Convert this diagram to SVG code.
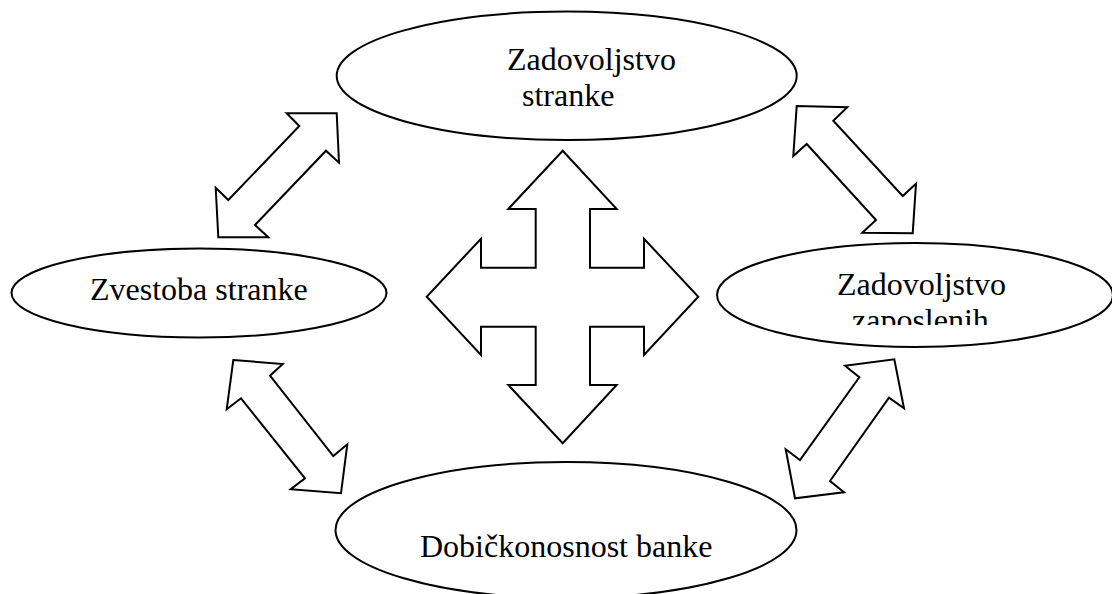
<svg xmlns="http://www.w3.org/2000/svg" width="1112" height="594" viewBox="0 0 1112 594">
<style>
.shape{fill:#fff;stroke:#000;stroke-width:2;stroke-linejoin:miter}
.lbl{font-family:"Liberation Serif","Times New Roman",serif;font-size:32px;fill:#000}
</style>
<defs>
<clipPath id="clipR"><rect x="700" y="230" width="412" height="95"/></clipPath>
</defs>
<rect width="1112" height="594" fill="#fff"/>
<g id="connectors">
<polygon class="shape" points="286.7,113.3 336.7,113.3 339,162.7 326,150.7 255,225 268.3,237.3 218.3,237.3 215.7,187.7 228.3,200 299.3,126"/>
<polygon class="shape" points="796.7,106 847.3,107.3 833.3,120.7 902.7,196 916,183.7 912.7,233.3 862.3,232.7 876,220 806.7,144 793.3,156"/>
<polygon class="shape" points="233.3,360 282.7,364 270,375.7 333.3,456 347.3,444.3 341,493.3 290.7,489.3 305,478.3 241,398.3 226.7,409.3"/>
<polygon class="shape" points="845,365.7 894.3,359.3 904,408.3 889,397.7 830,481 844,492.3 795,498.3 785.7,449.3 800,460 859.3,377.3"/>
<polygon class="shape" points="562.7,150.7 616.7,209 590,209 590,267.7 644,267.7 644,238.7 698.3,296.7 644,355 644,326.7 590,326.7 590,385 616.7,385 562.7,443.3 508.3,385 535.7,385 535.7,326.7 481,326.7 481,355 426.7,296.7 481,238.7 481,267.7 535.7,267.7 535.7,209 508.3,209"/>
</g>
<g id="node-top">
<ellipse class="shape" cx="566.7" cy="75.8" rx="230" ry="64.2"/>
<text class="lbl" x="507" y="70">Zadovoljstvo</text>
<text class="lbl" x="522" y="106">stranke</text>
</g>
<g id="node-left">
<ellipse class="shape" cx="199" cy="293" rx="187.5" ry="44.5"/>
<text class="lbl" x="90" y="300">Zvestoba stranke</text>
</g>
<g id="node-right">
<ellipse class="shape" cx="915" cy="295" rx="198" ry="52"/>
<g clip-path="url(#clipR)">
<text class="lbl" x="837" y="295">Zadovoljstvo</text>
<text class="lbl" x="852" y="331">zaposlenih</text>
</g>
</g>
<g id="node-bottom">
<ellipse class="shape" cx="566" cy="530" rx="230.5" ry="68"/>
<text class="lbl" x="420" y="557">Dobičkonosnost banke</text>
</g>
</svg>
